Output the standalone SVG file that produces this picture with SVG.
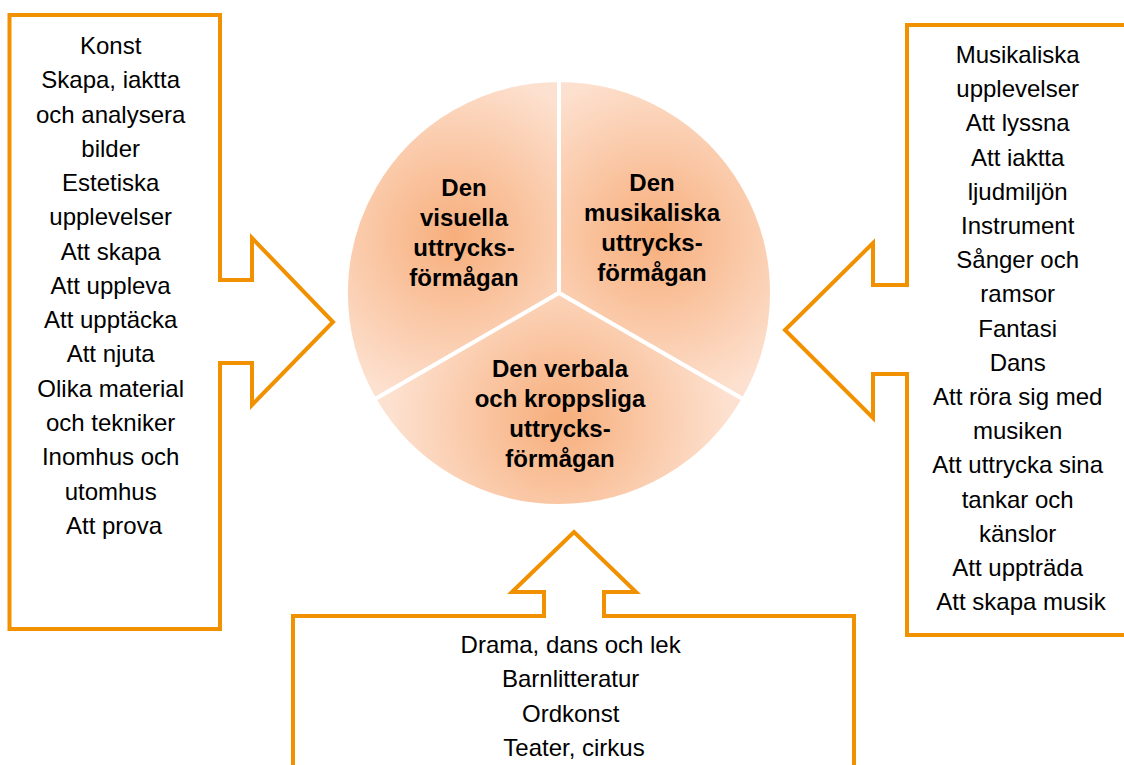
<svg xmlns="http://www.w3.org/2000/svg" width="1124" height="765" viewBox="0 0 1124 765">
<style>
.callout{fill:#FFFFFF;stroke:#F29100;stroke-width:4;stroke-linejoin:miter}
.item{font-family:"Liberation Sans",Arial,sans-serif;font-size:24px;fill:#000;text-anchor:middle}
.lbl{font-family:"Liberation Sans",Arial,sans-serif;font-size:24px;font-weight:bold;fill:#000;text-anchor:middle}
.slice{stroke:#FFFFFF;stroke-width:4;stroke-linejoin:round}
</style>
<defs>
<radialGradient id="gL" gradientUnits="userSpaceOnUse" cx="455" cy="237" r="170">
<stop offset="0" stop-color="#F7AE7B"/>
<stop offset="1" stop-color="#FDE1D0"/>
</radialGradient>
<radialGradient id="gR" gradientUnits="userSpaceOnUse" cx="655" cy="237" r="170">
<stop offset="0" stop-color="#F7AE7B"/>
<stop offset="1" stop-color="#FDE1D0"/>
</radialGradient>
<radialGradient id="gB" gradientUnits="userSpaceOnUse" cx="560" cy="420" r="170">
<stop offset="0" stop-color="#F7AE7B"/>
<stop offset="1" stop-color="#FDE1D0"/>
</radialGradient>
</defs>
<rect width="1124" height="765" fill="#FFFFFF"/>

<g id="connectors"></g>

<g id="pie">
<g id="slice-visual">
<path class="slice" fill="url(#gL)" d="M559,293 L559,80 A213,213 0 0 0 374.5,399.5 Z"/>
<text class="lbl"><tspan x="464" y="196">Den</tspan><tspan x="464" y="226">visuella</tspan><tspan x="464" y="256">uttrycks-</tspan><tspan x="464" y="286">förmågan</tspan></text>
</g>
<g id="slice-music">
<path class="slice" fill="url(#gR)" d="M559,293 L559,80 A213,213 0 0 1 743.5,399.5 Z"/>
<text class="lbl"><tspan x="652" y="191">Den</tspan><tspan x="652" y="221">musikaliska</tspan><tspan x="652" y="251">uttrycks-</tspan><tspan x="652" y="281">förmågan</tspan></text>
</g>
<g id="slice-verbal">
<path class="slice" fill="url(#gB)" d="M559,293 L743.5,399.5 A213,213 0 0 1 374.5,399.5 Z"/>
<text class="lbl"><tspan x="560" y="377">Den verbala</tspan><tspan x="560" y="407">och kroppsliga</tspan><tspan x="560" y="437">uttrycks-</tspan><tspan x="560" y="467">förmågan</tspan></text>
</g>
</g>

<g id="callout-left">
<path class="callout" d="M9.5,15 H220 V280 H252 V238 L333,322 L252,405 V363 H220 V629 H9.5 Z"/>
<text class="item">
<tspan x="114" y="54">Konst</tspan>
<tspan x="114" y="88.3">Skapa, iaktta</tspan>
<tspan x="114" y="122.5">och analysera</tspan>
<tspan x="114" y="156.8">bilder</tspan>
<tspan x="114" y="191.1">Estetiska</tspan>
<tspan x="114" y="225.4">upplevelser</tspan>
<tspan x="114" y="259.6">Att skapa</tspan>
<tspan x="114" y="293.9">Att uppleva</tspan>
<tspan x="114" y="328.2">Att upptäcka</tspan>
<tspan x="114" y="362.4">Att njuta</tspan>
<tspan x="114" y="396.7">Olika material</tspan>
<tspan x="114" y="431">och tekniker</tspan>
<tspan x="114" y="465.2">Inomhus och</tspan>
<tspan x="114" y="499.5">utomhus</tspan>
<tspan x="114" y="533.8">Att prova</tspan>
</text>
</g>

<g id="callout-right">
<path class="callout" d="M1140,25 H907 V285 H873 V243 L785,330 L873,418 V374 H907 V635 H1140"/>
<text class="item">
<tspan x="1021" y="63">Musikaliska</tspan>
<tspan x="1021" y="97.2">upplevelser</tspan>
<tspan x="1021" y="131.4">Att lyssna</tspan>
<tspan x="1021" y="165.6">Att iaktta</tspan>
<tspan x="1021" y="199.8">ljudmiljön</tspan>
<tspan x="1021" y="234">Instrument</tspan>
<tspan x="1021" y="268.1">Sånger och</tspan>
<tspan x="1021" y="302.3">ramsor</tspan>
<tspan x="1021" y="336.5">Fantasi</tspan>
<tspan x="1021" y="370.7">Dans</tspan>
<tspan x="1021" y="404.9">Att röra sig med</tspan>
<tspan x="1021" y="439.1">musiken</tspan>
<tspan x="1021" y="473.3">Att uttrycka sina</tspan>
<tspan x="1021" y="507.5">tankar och</tspan>
<tspan x="1021" y="541.7">känslor</tspan>
<tspan x="1021" y="575.8">Att uppträda</tspan>
<tspan x="1021" y="610">Att skapa musik</tspan>
</text>
</g>

<g id="callout-bottom">
<path class="callout" d="M293,775 V616 H544 V592 H512 L574,532 L636,592 H604 V616 H854 V775"/>
<text class="item">
<tspan x="574" y="653">Drama, dans och lek</tspan>
<tspan x="574" y="687.3">Barnlitteratur</tspan>
<tspan x="574" y="721.5">Ordkonst</tspan>
<tspan x="574" y="755.8">Teater, cirkus</tspan>
</text>
</g>
</svg>
